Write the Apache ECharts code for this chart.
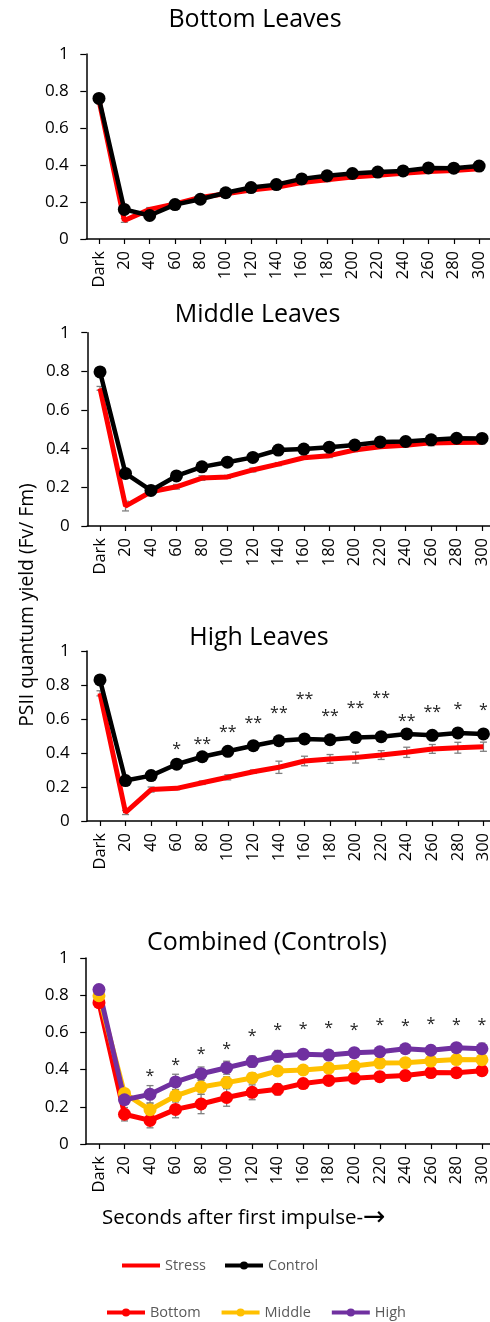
<!DOCTYPE html>
<html>
<head>
<meta charset="utf-8">
<script src="https://cdn.jsdelivr.net/npm/echarts@6/dist/echarts.min.js"></script>
<style>
  html, body { margin: 0; padding: 0; background: #fff; }
  #chart { width: 490px; height: 1322px; }
</style>
</head>
<body>
<div id="chart"></div>
<script>
// Time points after the first light impulse
const categories = ['Dark', '20', '40', '60', '80', '100', '120', '140', '160', '180', '200', '220', '240', '260', '280', '300'];

// Stress-treated plants, mean yield per leaf layer
const bottomStress = [0.75, 0.10, 0.16, 0.19, 0.225, 0.245, 0.265, 0.28, 0.305, 0.32, 0.335, 0.345, 0.355, 0.365, 0.37, 0.38];
const middleStress = [0.712, 0.103, 0.177, 0.203, 0.248, 0.254, 0.29, 0.32, 0.353, 0.364, 0.393, 0.41, 0.418, 0.43, 0.432, 0.433];
const highStress   = [0.751, 0.05, 0.185, 0.192, 0.225, 0.257, 0.29, 0.316, 0.353, 0.365, 0.373, 0.388, 0.404, 0.424, 0.431, 0.437];

const bottomStressErr = [0.01, 0.01, 0.01, 0.01, 0.01, 0.01, 0.01, 0.01, 0.01, 0.01, 0.01, 0.01, 0.01, 0.01, 0.01, 0.01];
const middleStressErr = [0.01, 0.025, 0.01, 0.012, 0.012, 0.008, 0.01, 0.008, 0.008, 0.01, 0.008, 0.008, 0.008, 0.015, 0.008, 0.008];
const highStressErr   = [0.015, 0.012, 0.015, 0.008, 0.01, 0.015, 0.01, 0.036, 0.028, 0.026, 0.032, 0.026, 0.03, 0.026, 0.032, 0.027];

// Control plants, mean yield per leaf layer
const bottomControl = [0.76, 0.16, 0.127, 0.186, 0.215, 0.25, 0.278, 0.294, 0.325, 0.342, 0.354, 0.362, 0.368, 0.384, 0.383, 0.394];
const middleControl = [0.797, 0.272, 0.184, 0.259, 0.306, 0.33, 0.355, 0.393, 0.398, 0.408, 0.419, 0.435, 0.437, 0.446, 0.454, 0.453];
const highControl   = [0.83, 0.238, 0.267, 0.334, 0.378, 0.41, 0.443, 0.472, 0.483, 0.478, 0.491, 0.496, 0.512, 0.504, 0.518, 0.512];

const bottomControlErr = [0.01, 0.036, 0.04, 0.045, 0.052, 0.047, 0.04, 0.03, 0.025, 0.022, 0.02, 0.02, 0.025, 0.02, 0.018, 0.02];
const middleControlErr = [0.01, 0.02, 0.036, 0.033, 0.039, 0.031, 0.027, 0.02, 0.02, 0.02, 0.02, 0.02, 0.02, 0.02, 0.02, 0.02];
const highControlErr   = [0.01, 0.02, 0.047, 0.041, 0.036, 0.035, 0.03, 0.031, 0.025, 0.022, 0.02, 0.02, 0.022, 0.025, 0.02, 0.03];

// Significance marks and the height at which each is written
const highStars     = ['', '', '', '*', '**', '**', '**', '**', '**', '**', '**', '**', '**', '**', '*', '*'];
const highStarY     = [null, null, null, 0.443, 0.476, 0.545, 0.598, 0.659, 0.737, 0.639, 0.688, 0.747, 0.61, 0.663, 0.682, 0.672];
const combinedStars = ['', '', '*', '*', '*', '*', '*', '*', '*', '*', '*', '*', '*', '*', '*', '*'];
const combinedStarY = [null, null, 0.383, 0.446, 0.505, 0.532, 0.598, 0.634, 0.64, 0.645, 0.634, 0.658, 0.654, 0.663, 0.66, 0.66];

// Value axis ticks
const yMin = 0, yMax = 1, yStep = 0.2;

const FONT = '"Open Sans", sans-serif';
const RED = '#FF0000', BLACK = '#000000', GOLD = '#FFC000', PURPLE = '#7030A0';

const panels = [
  { title: 'Bottom Leaves',       tx: 255,   ty: 19.5,  left: 86.3, top: 54,    width: 405.5, height: 185 },
  { title: 'Middle Leaves',       tx: 257.5, ty: 314.5, left: 87.3, top: 332.7, width: 407.5, height: 193.3 },
  { title: 'High Leaves',         tx: 259,   ty: 638,   left: 87.2, top: 651,   width: 409,   height: 170 },
  { title: 'Combined (Controls)', tx: 267,   ty: 943,   left: 86.2, top: 958,   width: 408.5, height: 186 }
];

const grid = panels.map(p => ({
  left: p.left, top: p.top, width: p.width, height: p.height,
  containLabel: false, outerBoundsMode: 'none'
}));

const xAxis = panels.map((p, i) => ({
  type: 'category', gridIndex: i, data: categories, boundaryGap: true,
  axisLine: { show: true, onZero: true, lineStyle: { color: '#000', width: 1.5 } },
  axisTick: { show: true, alignWithLabel: true, length: 5, lineStyle: { color: '#000', width: 1.2 } },
  axisLabel: { rotate: 90, interval: 0, margin: 12, color: '#000', fontSize: 16.5, fontFamily: FONT, hideOverlap: false },
  splitLine: { show: false }
}));

const yAxis = panels.map((p, i) => ({
  type: 'value', gridIndex: i, min: yMin, max: yMax, interval: yStep,
  axisLine: { show: true, lineStyle: { color: '#000', width: 1.5 } },
  axisTick: { show: true, length: 6, lineStyle: { color: '#000', width: 1.2 } },
  axisLabel: { margin: 17.5, color: '#000', fontSize: 17, fontFamily: FONT },
  splitLine: { show: false }
}));

function lineSeries(name, idx, values, color, width, symbolSize) {
  return {
    type: 'line', name: name, xAxisIndex: idx, yAxisIndex: idx, data: values,
    symbol: symbolSize ? 'circle' : 'none', symbolSize: symbolSize || 0,
    lineStyle: { color: color, width: width }, itemStyle: { color: color },
    emphasis: { disabled: true }, silent: true
  };
}

function errorSeries(name, idx, values, errs) {
  return {
    type: 'custom', name: name, xAxisIndex: idx, yAxisIndex: idx, silent: true,
    data: values.map((v, i) => [i, v - errs[i], v + errs[i]]),
    encode: { x: 0, y: [1, 2] },
    renderItem: function (params, api) {
      const lo = api.coord([api.value(0), api.value(1)]);
      const hi = api.coord([api.value(0), api.value(2)]);
      const hw = 3.5;
      const st = { stroke: '#7f7f7f', lineWidth: 1.3 };
      return {
        type: 'group',
        children: [
          { type: 'line', shape: { x1: lo[0], y1: lo[1], x2: hi[0], y2: hi[1] }, style: st },
          { type: 'line', shape: { x1: lo[0] - hw, y1: lo[1], x2: lo[0] + hw, y2: lo[1] }, style: st },
          { type: 'line', shape: { x1: hi[0] - hw, y1: hi[1], x2: hi[0] + hw, y2: hi[1] }, style: st }
        ]
      };
    }
  };
}

// Asterisks drawn as text at the given heights
function starSeries(name, idx, marks, heights) {
  const data = [];
  marks.forEach((m, i) => { if (m) data.push([i, heights[i], m]); });
  return {
    type: 'custom', name: name, xAxisIndex: idx, yAxisIndex: idx, silent: true,
    data: data, encode: { x: 0, y: 1 },
    renderItem: function (params, api) {
      const pt = api.coord([api.value(0), api.value(1)]);
      return {
        type: 'text', x: pt[0], y: pt[1] + 4,
        style: {
          text: data[params.dataIndex][2], fill: '#222', fontSize: 16, fontFamily: FONT,
          align: 'center', verticalAlign: 'middle'
        }
      };
    }
  };
}

const series = [
  lineSeries('Stress', 0, bottomStress, RED, 5),
  errorSeries('Stress bottom error', 0, bottomStress, bottomStressErr),
  lineSeries('Control', 0, bottomControl, BLACK, 4.5, 13),

  lineSeries('Stress', 1, middleStress, RED, 5),
  errorSeries('Stress middle error', 1, middleStress, middleStressErr),
  lineSeries('Control', 1, middleControl, BLACK, 4.5, 13),

  lineSeries('Stress', 2, highStress, RED, 5),
  errorSeries('Stress high error', 2, highStress, highStressErr),
  lineSeries('Control', 2, highControl, BLACK, 4.5, 13),
  starSeries('High marks', 2, highStars, highStarY),

  lineSeries('Bottom', 3, bottomControl, RED, 5, 13),
  errorSeries('Bottom error', 3, bottomControl, bottomControlErr),
  lineSeries('Middle', 3, middleControl, GOLD, 5, 13),
  errorSeries('Middle error', 3, middleControl, middleControlErr),
  lineSeries('High', 3, highControl, PURPLE, 5, 13),
  errorSeries('High error', 3, highControl, highControlErr),
  starSeries('Combined marks', 3, combinedStars, combinedStarY)
];

const legendText = { color: '#595959', fontSize: 14.5, fontFamily: FONT };

const graphic = panels.map(p => ({
  type: 'text', x: p.tx, y: p.ty, silent: true,
  style: { text: p.title, fill: '#000', fontSize: 25, fontFamily: FONT, align: 'center', verticalAlign: 'middle' }
})).concat([
  {
    type: 'text', x: 28, y: 605, rotation: Math.PI / 2, silent: true,
    style: { text: 'PSII quantum yield (Fv/ Fm)', fill: '#000', fontSize: 19.3, fontFamily: FONT, align: 'center', verticalAlign: 'middle' }
  },
  {
    type: 'text', x: 102, y: 1218, silent: true,
    style: {
      text: '{t|Seconds after first impulse-}{a|\u2192}', align: 'left', verticalAlign: 'middle',
      rich: {
        t: { fill: '#000', fontSize: 20.5, fontFamily: FONT },
        a: { fill: '#000', fontSize: 27, fontFamily: '"DejaVu Sans", sans-serif' }
      }
    }
  }
]);

const chart = echarts.init(document.getElementById('chart'), null, { renderer: 'canvas' });
chart.setOption({
  animation: false,
  backgroundColor: '#fff',
  grid: grid,
  xAxis: xAxis,
  yAxis: yAxis,
  legend: [
    {
      data: [{ name: 'Stress', itemStyle: { opacity: 0 } }, 'Control'],
      left: 120, top: 1258, padding: 0, itemWidth: 38, itemHeight: 10, itemGap: 17,
      lineStyle: { width: 4 }, textStyle: legendText
    },
    {
      data: ['Bottom', 'Middle', 'High'],
      left: 105, top: 1305, padding: 0, itemWidth: 38, itemHeight: 10, itemGap: 19,
      lineStyle: { width: 4 }, textStyle: legendText
    }
  ],
  graphic: graphic,
  series: series
});
</script>
</body>
</html>
